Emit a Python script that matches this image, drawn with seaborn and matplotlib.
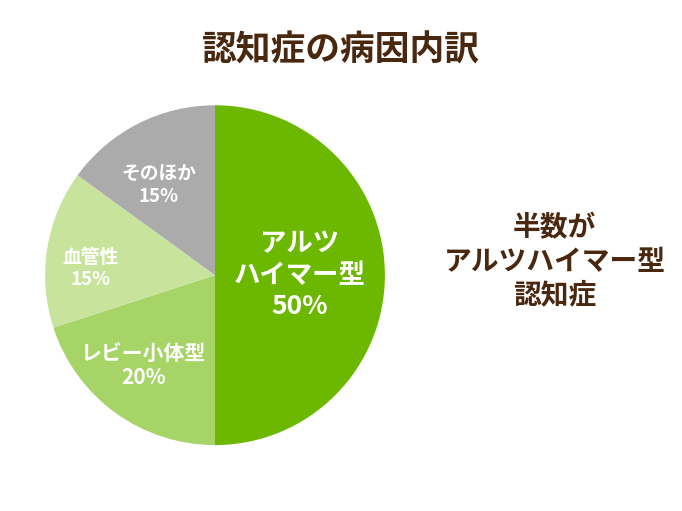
import matplotlib
matplotlib.use("Agg")
import matplotlib.pyplot as plt
import seaborn as sns

sns.set_theme(style="white")
plt.rcParams['font.family'] = ['Noto Sans CJK JP', 'DejaVu Sans']

categories = ["アルツ\nハイマー型", "レビー小体型", "血管性", "そのほか"]
values = [50, 20, 15, 15]
colors = ["#6cb800", "#a6d466", "#c8e49c", "#ababab"]
label_pos = [(0.5, 0.0), (-0.42, -0.53), (-0.73, 0.04), (-0.33, 0.53)]
label_size = [19, 15, 13.5, 13.5]

fig = plt.figure(figsize=(6.82, 5.11), dpi=100)
ax = fig.add_axes([0.066, 0.129, 0.4985, 0.665])
ax.pie(values, colors=colors, startangle=90, counterclock=False,
       wedgeprops=dict(linewidth=0))
ax.set_xlim(-1, 1); ax.set_ylim(-1, 1)
for cat, v, (x, y), s in zip(categories, values, label_pos, label_size):
    ax.text(x, y, f"{cat}\n{v}%", ha="center", va="center", color="white",
            fontsize=s, fontweight="bold", linespacing=1.2)

brown = "#4a2810"
fig.text(0.5, 0.902, "認知症の病因内訳", ha="center", va="center",
         fontsize=25, fontweight="bold", color=brown)
fig.text(0.813, 0.487, "半数が\nアルツハイマー型\n認知症", ha="center", va="center",
         fontsize=20, fontweight="bold", color=brown, linespacing=1.25)
fig.savefig("out.png", dpi=100)
